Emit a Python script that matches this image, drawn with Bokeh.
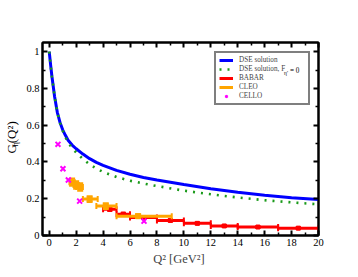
import numpy as np
from bokeh.plotting import figure
from bokeh.models import (LinearAxis, Range1d, Legend, LegendItem, FixedTicker)
from bokeh.layouts import row
from bokeh.core.properties import value
from bokeh.embed import file_html
from bokeh.resources import INLINE

# ---------------- data ----------------
dse_q2 = [0.0, 0.1, 0.2, 0.4, 0.6, 0.8, 1.0, 1.2, 1.4, 1.7, 2.0, 2.5, 3.0, 3.5, 4.0, 5.0, 6.0,
          7.0, 8.0, 10.0, 12.0, 14.0, 16.0, 18.0, 20.0]
dse_g = [1.0, 0.93, 0.865, 0.755, 0.67, 0.615, 0.575, 0.545, 0.518, 0.492, 0.472, 0.443, 0.418,
         0.398, 0.382, 0.354, 0.333, 0.316, 0.302, 0.277, 0.254, 0.235, 0.219, 0.206, 0.196]

dse0_q2 = [0.0, 0.1, 0.2, 0.4, 0.6, 0.8, 1.0, 1.2, 1.4, 1.7, 2.0, 2.5, 3.0, 3.5, 4.0, 5.0, 6.0,
           7.0, 8.0, 10.0, 12.0, 14.0, 16.0, 18.0, 20.0]
dse0_g = [1.0, 0.93, 0.865, 0.755, 0.67, 0.613, 0.57, 0.535, 0.505, 0.476, 0.452, 0.416, 0.387,
          0.364, 0.346, 0.318, 0.298, 0.283, 0.269, 0.244, 0.224, 0.207, 0.192, 0.180, 0.170]

babar_q2 = [4.5, 5.5, 7.0, 9.0, 11.0, 13.0, 15.5, 18.5]
babar_lo = [4.0, 5.0, 6.0, 8.0, 10.0, 12.0, 14.0, 17.0]
babar_hi = [5.0, 6.0, 8.0, 10.0, 12.0, 14.0, 17.0, 20.0]
babar_g = [0.143, 0.116, 0.098, 0.082, 0.066, 0.052, 0.046, 0.040]
babar_err = [0.010, 0.008, 0.006, 0.006, 0.005, 0.005, 0.005, 0.005]

cleo_q2 = [1.7, 2.0, 2.3, 3.0, 4.2, 6.6]
cleo_lo = [1.5, 1.8, 2.0, 2.5, 3.5, 5.0]
cleo_hi = [1.9, 2.2, 2.5, 3.6, 5.0, 9.1]
cleo_g = [0.290, 0.275, 0.264, 0.198, 0.160, 0.105]
cleo_err = [0.020, 0.020, 0.020, 0.016, 0.016, 0.010]

cello_q2 = [0.65, 1.02, 1.42, 2.26, 7.04]
cello_g = [0.496, 0.363, 0.302, 0.187, 0.078]

x_major = [0, 2, 4, 6, 8, 10, 12, 14, 16, 18, 20]
x_minor = [1, 3, 5, 7, 9, 11, 13, 15, 17, 19]
y_major = [0, 0.2, 0.4, 0.6, 0.8, 1.0]
y_minor = [0.1, 0.3, 0.5, 0.7, 0.9]
y_labels = {0: "0", 0.2: "0.2", 0.4: "0.4", 0.6: "0.6", 0.8: "0.8", 1.0: "1"}

FONT = "Liberation Serif"
BLUE = "#0000ff"
GREEN = "#1a9a1a"
RED = "#ff0000"
ORANGE = "#ffa500"
MAGENTA = "#ff00ff"

XR = (-0.5, 20.0)
YR = (0.0, 1.05)
FW, FH = 276, 193
SIDE_W = 23          # width of the narrow strip holding the y label
BL, BT, BR, BB = 19, 42, 38, 40
TOTAL_H = BT + FH + BB

p = figure(frame_width=FW, frame_height=FH, x_range=Range1d(*XR), y_range=Range1d(*YR),
           output_backend="svg", toolbar_location=None,
           min_border_left=BL, min_border_right=BR, min_border_top=BT, min_border_bottom=BB,
           x_axis_location=None, y_axis_location=None)
p.xgrid.visible = False
p.ygrid.visible = False
p.outline_line_color = "black"
p.outline_line_width = 2
p.background_fill_color = "white"
p.border_fill_color = "white"


def make_axis(ticks, minor, show_labels, overrides=None):
    ax = LinearAxis(ticker=FixedTicker(ticks=ticks, minor_ticks=minor))
    ax.axis_line_color = "black"
    ax.axis_line_width = 2
    ax.major_tick_in = 5
    ax.major_tick_out = 0
    ax.minor_tick_in = 3
    ax.minor_tick_out = 0
    ax.major_tick_line_width = 2
    ax.minor_tick_line_width = 1.5
    ax.major_label_text_font = FONT
    ax.major_label_text_font_size = "10.5px"
    ax.major_label_text_color = "black"
    ax.major_label_standoff = 3
    if overrides:
        ax.major_label_overrides = overrides
    if not show_labels:
        ax.major_label_text_alpha = 0
        ax.major_label_standoff = 0
    return ax


xb = make_axis(x_major, x_minor, True)
xb.axis_label = "Q\u00b2  [GeV\u00b2]"
xb.axis_label_text_font = FONT
xb.axis_label_text_font_size = "12.5px"
xb.axis_label_text_font_style = "normal"
xb.axis_label_standoff = 3
p.add_layout(xb, "below")
p.add_layout(make_axis(x_major, x_minor, False), "above")
p.add_layout(make_axis(y_major, y_minor, True, y_labels), "left")
p.add_layout(make_axis(y_major, y_minor, False), "right")

# ---------------- curves ----------------
r_dse = p.line(dse_q2, dse_g, line_color=BLUE, line_width=3)
r_dse0 = p.line(dse0_q2, dse0_g, line_color=GREEN, line_width=2.6, line_dash="2 6")

# ---------------- BABAR ----------------
bq, bl, bh, bg, be = map(np.array, (babar_q2, babar_lo, babar_hi, babar_g, babar_err))
r_babar = p.segment(bl, bg, bh, bg, line_color=RED, line_width=3)
p.segment(bq, bg - be, bq, bg + be, line_color=RED, line_width=2)
p.scatter(np.concatenate([bl, bh]), np.concatenate([bg, bg]), marker="dash", angle=np.pi / 2,
          size=6, line_color=RED, line_width=2)
p.scatter(np.concatenate([bq, bq]), np.concatenate([bg - be, bg + be]), marker="dash",
          size=5, line_color=RED, line_width=2)
p.scatter(bq, bg, marker="square", size=4, fill_color=RED, line_color=RED)

# ---------------- CLEO ----------------
cq, cl, ch, cg, ce = map(np.array, (cleo_q2, cleo_lo, cleo_hi, cleo_g, cleo_err))
r_cleo = p.segment(cl, cg, ch, cg, line_color=ORANGE, line_width=3)
p.segment(cq, cg - ce, cq, cg + ce, line_color=ORANGE, line_width=2)
p.scatter(np.concatenate([cl, ch]), np.concatenate([cg, cg]), marker="dash", angle=np.pi / 2,
          size=6, line_color=ORANGE, line_width=2)
p.scatter(np.concatenate([cq, cq]), np.concatenate([cg - ce, cg + ce]), marker="dash",
          size=6, line_color=ORANGE, line_width=2)
p.scatter(cq, cg, marker="square", size=5, fill_color=ORANGE, line_color=ORANGE)

# ---------------- CELLO ----------------
r_cello_line = p.line([], [], line_color=MAGENTA, line_width=1.5)
r_cello = p.scatter(cello_q2, cello_g, marker="x", size=7, line_color=MAGENTA, line_width=2)

# ---------------- legend ----------------
legend = Legend(items=[
    LegendItem(label="DSE solution", renderers=[r_dse]),
    LegendItem(label="DSE solution, F" + " " * 11, renderers=[r_dse0]),
    LegendItem(label="BABAR", renderers=[r_babar]),
    LegendItem(label="CLEO", renderers=[r_cleo]),
    LegendItem(label="CELLO", renderers=[r_cello_line, r_cello]),
], location=(172, 130))
legend.label_text_font = FONT
legend.label_text_font_size = "7.2px"
legend.label_height = 8
legend.glyph_height = 8
legend.glyph_width = 14
legend.label_standoff = 6
legend.spacing = 1
legend.padding = 3
legend.margin = 0
legend.border_line_color = "black"
legend.border_line_width = 2
legend.background_fill_alpha = 0   # frame is white; lets the subscript text below show
p.add_layout(legend, "center")

# page pixel -> data helpers for the legend subscript (frame's top-left is at page (42, 42))
PX0, PY0 = SIDE_W + BL, BT


def dx(px):
    return XR[0] + (px - PX0) * (XR[1] - XR[0]) / FW


def dy(py):
    return YR[1] - (py - PY0) * (YR[1] - YR[0]) / FH


p.text(x=[dx(283.5)], y=[dy(72.0)], text=["\u03b7'"], text_align="left", text_baseline="middle",
       text_font=value(FONT), text_font_size="5.5px", text_color="black")
p.text(x=[dx(289.5)], y=[dy(70.4)], text=["= 0"], text_align="left", text_baseline="middle",
       text_font=value(FONT), text_font_size="7.2px", text_color="black")

# ---------------- y label strip ----------------
side = figure(width=SIDE_W, height=TOTAL_H, x_range=Range1d(0, SIDE_W), y_range=Range1d(0, TOTAL_H),
              output_backend="svg", toolbar_location=None, min_border=0,
              x_axis_location=None, y_axis_location=None)
side.xgrid.visible = False
side.ygrid.visible = False
side.outline_line_color = None
side.background_fill_color = "white"
side.border_fill_color = "white"

side.text(x=[11], y=[TOTAL_H - 158], text=["G"], angle=np.pi / 2, text_align="left",
          text_baseline="middle", text_font=value(FONT), text_font_size="13px", text_color="black")
side.text(x=[14.5], y=[TOTAL_H - 148.5], text=["\u03b7"], angle=np.pi / 2, text_align="left",
          text_baseline="middle", text_font=value(FONT), text_font_size="9px", text_color="black")
side.text(x=[11], y=[TOTAL_H - 143.5], text=["(Q\u00b2)"], angle=np.pi / 2, text_align="left",
          text_baseline="middle", text_font=value(FONT), text_font_size="13px", text_color="black")

layout = row(side, p)
open("out.html", "w").write(file_html(layout, INLINE))
